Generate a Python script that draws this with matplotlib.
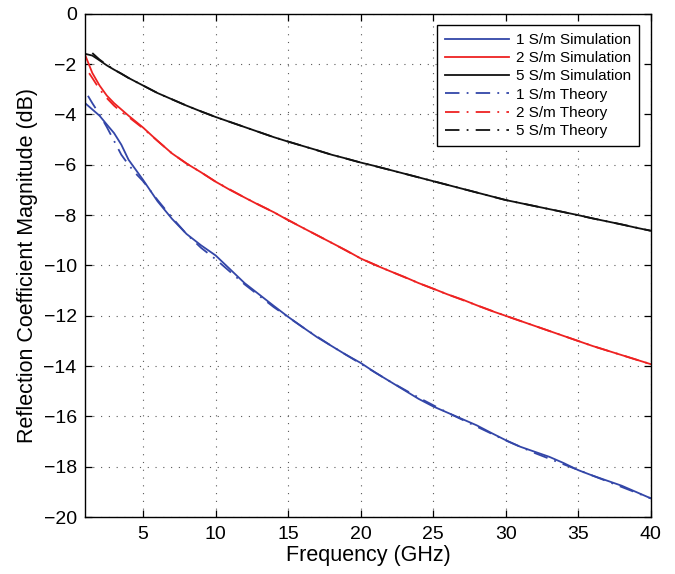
"""
Reflection coefficient magnitude vs frequency: simulation vs theory.
"""

import matplotlib
matplotlib.use("Agg")
import matplotlib.pyplot as plt

plt.rcParams['font.family'] = ['Liberation Sans', 'DejaVu Sans']

# ========================== Data ==========================
freq_sim = [1, 1.5, 2, 2.5, 3, 3.5, 4, 5, 6, 7, 8, 9, 10, 11, 12, 13, 14, 15,
            16, 17, 18, 19, 20, 21, 22, 23, 24, 25, 26, 27, 28, 29, 30, 31,
            32, 33, 34, 35, 36, 37, 38, 39, 40]

sim_1sm = [-3.55, -3.8, -4.05, -4.4, -4.74, -5.2, -5.8, -6.6, -7.45, -8.15,
           -8.75, -9.2, -9.6, -10.15, -10.7, -11.15, -11.6, -12.04, -12.45,
           -12.85, -13.2, -13.55, -13.87, -14.25, -14.6, -14.95, -15.3, -15.6,
           -15.85, -16.1, -16.35, -16.65, -16.94, -17.2, -17.4, -17.6, -17.85,
           -18.13, -18.35, -18.55, -18.75, -19.0, -19.25]

sim_2sm = [-1.63, -2.35, -2.85, -3.25, -3.55, -3.8, -4.05, -4.52, -5.05, -5.55,
           -5.95, -6.3, -6.67, -7.0, -7.3, -7.6, -7.88, -8.2, -8.5, -8.8,
           -9.1, -9.4, -9.72, -9.98, -10.22, -10.45, -10.7, -10.92, -11.15,
           -11.35, -11.58, -11.8, -12.0, -12.2, -12.4, -12.6, -12.8, -13.0,
           -13.2, -13.38, -13.56, -13.74, -13.92]

sim_5sm = [-1.59, -1.66, -1.85, -2.05, -2.22, -2.38, -2.55, -2.85, -3.15, -3.4,
           -3.65, -3.88, -4.1, -4.3, -4.5, -4.7, -4.9, -5.08, -5.25, -5.42,
           -5.6, -5.75, -5.91, -6.05, -6.2, -6.35, -6.5, -6.65, -6.8, -6.95,
           -7.1, -7.25, -7.4, -7.52, -7.64, -7.76, -7.88, -8.0, -8.13, -8.25,
           -8.37, -8.5, -8.62]

freq_th_1sm = [1.2, 1.5, 2, 2.5, 3, 3.5, 4, 4.5, 5, 6, 7, 8, 9, 10, 12, 14, 16,
               18, 20, 22, 24, 26, 28, 30, 32, 34, 36, 38, 40]
th_1sm = [-3.26, -3.55, -4.0, -4.5, -5.05, -5.6, -6.0, -6.35, -6.65, -7.4,
          -8.1, -8.75, -9.3, -9.75, -10.75, -11.65, -12.45, -13.2, -13.9,
          -14.6, -15.25, -15.85, -16.4, -16.95, -17.45, -17.9, -18.35, -18.8,
          -19.25]

freq_th_2sm = [1.28, 1.5, 2, 2.5, 3, 3.5, 4, 5, 6, 7, 8, 9, 10, 12, 14, 16, 18,
               20, 22, 24, 26, 28, 30, 32, 34, 36, 38, 40]
th_2sm = [-2.36, -2.55, -3.0, -3.35, -3.65, -3.9, -4.1, -4.55, -5.05, -5.55,
          -5.95, -6.3, -6.67, -7.3, -7.88, -8.5, -9.1, -9.72, -10.22, -10.7,
          -11.15, -11.58, -12.0, -12.4, -12.8, -13.2, -13.56, -13.92]

freq_th_5sm = [1.5, 2, 2.5, 3, 3.5, 4, 5, 6, 7, 8, 9, 10, 12, 14, 16, 18, 20,
               22, 24, 26, 28, 30, 32, 34, 36, 38, 40]
th_5sm = [-1.56, -1.82, -2.03, -2.22, -2.38, -2.55, -2.85, -3.15, -3.4, -3.65,
          -3.88, -4.1, -4.5, -4.9, -5.25, -5.6, -5.91, -6.2, -6.5, -6.8, -7.1,
          -7.4, -7.64, -7.88, -8.13, -8.37, -8.62]

x_ticks = [5, 10, 15, 20, 25, 30, 35, 40]
y_ticks = [-20, -18, -16, -14, -12, -10, -8, -6, -4, -2, 0]

# ========================== Plot ==========================
BLUE = '#3346a8'
RED = '#ee2222'
BLACK = '#111111'
DASHDOT = (0, (8, 4, 1, 4))

fig = plt.figure(figsize=(6.75, 5.74), dpi=100)
ax = fig.add_axes([0.126, 0.099, 0.838, 0.877])

ax.plot(freq_sim, sim_1sm, color=BLUE, lw=1.3, label='1 S/m Simulation')
ax.plot(freq_sim, sim_2sm, color=RED, lw=1.3, label='2 S/m Simulation')
ax.plot(freq_sim, sim_5sm, color=BLACK, lw=1.3, label='5 S/m Simulation')
ax.plot(freq_th_1sm, th_1sm, color=BLUE, lw=1.3, linestyle=DASHDOT, label='1 S/m Theory')
ax.plot(freq_th_2sm, th_2sm, color=RED, lw=1.3, linestyle=DASHDOT, label='2 S/m Theory')
ax.plot(freq_th_5sm, th_5sm, color=BLACK, lw=1.3, linestyle=DASHDOT, label='5 S/m Theory')

ax.set_xlim(1, 40)
ax.set_ylim(-20, 0)
ax.set_xticks(x_ticks)
ax.set_yticks(y_ticks)
ax.set_yticklabels([f'\u2212{abs(v)}' if v < 0 else str(v) for v in y_ticks])

ax.grid(True, color='0.35', linestyle=(0, (1, 6)), linewidth=0.8)
ax.tick_params(direction='in', top=True, right=True, length=5, width=0.9,
               labelsize=14, pad=6)
for s in ax.spines.values():
    s.set_linewidth(1.0)

ax.set_xlabel('Frequency (GHz)', fontsize=15.5, labelpad=2)
ax.set_ylabel('Reflection Coefficient Magnitude (dB)', fontsize=15.5, labelpad=4)

leg = ax.legend(loc='upper right', fontsize=11, frameon=True, fancybox=False,
                edgecolor='black', framealpha=1, handlelength=4.2,
                handletextpad=0.5, borderpad=0.5, borderaxespad=0.75,
                labelspacing=0.28)
leg.get_frame().set_linewidth(1.0)

plt.savefig('out.png', dpi=100)
plt.close()
